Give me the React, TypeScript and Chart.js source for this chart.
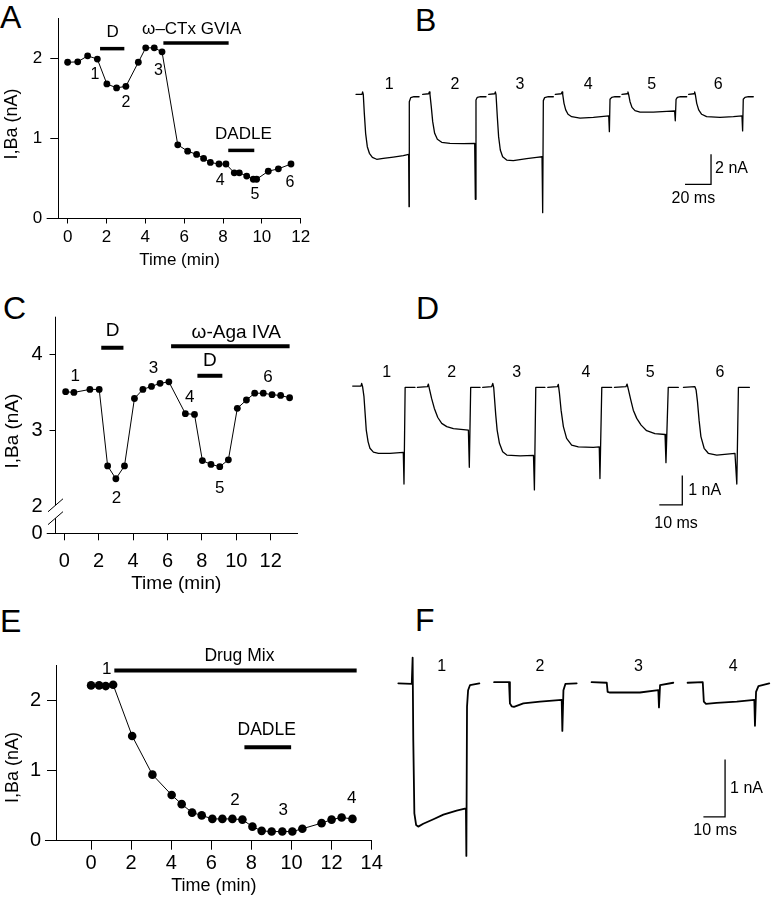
import React, { useEffect, useRef } from "react";
import { Chart, registerables } from "chart.js";

Chart.register(...registerables);

const FONT = '"Liberation Sans", Arial, Helvetica, sans-serif';
Chart.defaults.font.family = FONT;
Chart.defaults.color = "#000";

type Txt = [number, number, string];

/* ---------------- Panel A : time course ---------------- */
const A_TIME = [0, 0.52, 1.03, 1.53, 2.02, 2.52, 3.0, 3.64, 4.02, 4.46, 4.86, 5.67, 6.18, 6.64, 7.0, 7.35, 7.79, 8.15, 8.58, 8.84, 9.22, 9.56, 9.73, 10.33, 10.85, 11.5];
const A_CURRENT = [1.95, 1.955, 2.03, 1.99, 1.68, 1.63, 1.65, 1.95, 2.13, 2.13, 2.08, 0.92, 0.84, 0.8, 0.75, 0.7, 0.68, 0.68, 0.57, 0.57, 0.53, 0.49, 0.49, 0.59, 0.62, 0.68];
const A_X_TICKS = [0, 2, 4, 6, 8, 10, 12];
const A_Y_TICKS = [0, 1, 2];
const A_Y_TICK_LABELS = ["0", "1", "2"];
const A_BARS = [[1.67, 2.92, 2.12], [4.93, 8.29, 2.19], [8.27, 9.61, 0.85]];
const A_BAR_TEXT: Txt[] = [[2.32, 2.32, "D"], [6.39, 2.36, "ω–CTx GVIA"], [9.05, 1.055, "DADLE"]];
const A_POINT_TEXT: Txt[] = [[1.41, 1.8, "1"], [3.0, 1.45, "2"], [4.67, 1.84, "3"], [7.85, 0.47, "4"], [9.65, 0.3, "5"], [11.45, 0.45, "6"]];

/* ---------------- Panel C : time course (broken axis) ---------------- */
const C_TIME = [0.08, 0.56, 1.49, 2.03, 2.52, 3.0, 3.5, 4.08, 4.57, 5.07, 5.57, 6.08, 7.04, 7.57, 8.03, 8.53, 9.04, 9.54, 10.06, 10.59, 11.07, 11.57, 12.08, 12.58, 13.1];
const C_CURRENT = [3.51, 3.5, 3.54, 3.54, 2.53, 2.36, 2.53, 3.42, 3.54, 3.58, 3.62, 3.64, 3.22, 3.21, 2.6, 2.55, 2.52, 2.61, 3.29, 3.4, 3.49, 3.49, 3.47, 3.46, 3.43];
const C_AXIS_FLOOR = 1.64; // where the broken axis shows "0"
const C_X_TICKS = [0, 2, 4, 6, 8, 10, 12];
const C_Y_TICKS = [C_AXIS_FLOOR, 2, 3, 4];
const C_Y_TICK_LABELS = ["0", "2", "3", "4"];
const C_BARS = [[2.15, 3.44, 4.09], [6.21, 13.1, 4.11], [7.74, 9.19, 3.72]];
const C_BAR_TEXT: Txt[] = [[2.81, 4.32, "D"], [10.0, 4.29, "ω-Aga IVA"], [8.46, 3.92, "D"]];
const C_POINT_TEXT: Txt[] = [[0.64, 3.71, "1"], [3.04, 2.1, "2"], [5.19, 3.82, "3"], [7.3, 3.44, "4"], [9.04, 2.23, "5"], [11.84, 3.7, "6"]];

/* ---------------- Panel E : time course ---------------- */
const E_TIME = [0, 0.4, 0.73, 1.1, 2.05, 3.06, 4.02, 4.52, 5.04, 5.52, 6.05, 6.55, 7.05, 7.55, 8.05, 8.51, 9.01, 9.54, 10.04, 10.54, 11.5, 12.0, 12.5, 13.04];
const E_CURRENT = [2.21, 2.21, 2.2, 2.22, 1.49, 0.94, 0.65, 0.52, 0.4, 0.36, 0.31, 0.31, 0.31, 0.3, 0.2, 0.14, 0.13, 0.13, 0.13, 0.17, 0.25, 0.3, 0.33, 0.31];
const E_X_TICKS = [0, 2, 4, 6, 8, 10, 12, 14];
const E_Y_TICKS = [0, 1, 2];
const E_Y_TICK_LABELS = ["0", "1", "2"];
const E_BARS = [[1.16, 13.25, 2.42], [7.65, 9.98, 1.33]];
const E_BAR_TEXT: Txt[] = [[7.4, 2.62, "Drug Mix"], [8.76, 1.57, "DADLE"]];
const E_POINT_TEXT: Txt[] = [[0.78, 2.44, "1"], [7.18, 0.58, "2"], [9.59, 0.43, "3"], [13.0, 0.6, "4"]];

/* ---------------- Panel B : current traces (ms, nA) ---------------- */
const B_TRACES = [
  [[0, 0], [4.6, 0], [5.1, 0.16], [5.6, 0], [6.4, -1.27], [7.4, -2.6], [8.7, -3.49], [10.3, -3.93], [12.6, -4.2], [15.9, -4.33], [21.0, -4.27], [28.7, -4.18], [36.4, -4.09], [40.5, -4.0], [40.8, -7.49], [41.0, -0.49], [42.1, -0.22], [44.6, -0.16], [48.5, -0.16]],
  [[51.3, 0], [55.9, 0.04], [56.4, 0.16], [56.9, 0], [57.9, -0.82], [59.0, -1.82], [60.5, -2.6], [62.6, -3.0], [65.9, -3.2], [72.3, -3.27], [82.6, -3.29], [91.3, -3.27], [91.8, -7.0], [92.3, -0.38], [93.3, -0.2], [95.9, -0.16], [100, -0.16]],
  [[102.1, 0], [106.7, 0.04], [107.2, 0.16], [107.7, 0], [108.7, -1.49], [109.7, -2.82], [111.0, -3.71], [112.8, -4.16], [115.9, -4.38], [121.0, -4.42], [131.3, -4.29], [139.0, -4.2], [143.1, -4.16], [143.6, -7.89], [144.1, -0.42], [145.1, -0.22], [147.9, -0.16], [151.8, -0.16]],
  [[153.3, 0], [157.9, 0.04], [158.5, 0.16], [159, 0], [160, -0.6], [161.3, -1.04], [163.1, -1.33], [165.9, -1.49], [172.3, -1.58], [182.6, -1.53], [194.4, -1.44], [194.9, -2.49], [195.4, -0.33], [196.7, -0.2], [199.2, -0.16], [203.1, -0.16]],
  [[204.6, 0], [208.7, 0.04], [209.2, 0.16], [209.7, 0], [210.8, -0.49], [212.3, -0.87], [214.6, -1.09], [218.5, -1.18], [228.7, -1.18], [239.0, -1.13], [245.1, -1.11], [245.6, -1.76], [246.2, -0.33], [247.2, -0.2], [249.7, -0.16], [254.4, -0.16]],
  [[255.9, 0], [260, 0.04], [260.5, 0.16], [261.0, 0], [262.1, -0.6], [263.6, -1.04], [265.9, -1.33], [269.7, -1.49], [280, -1.53], [290.3, -1.49], [296.9, -1.44], [297.4, -2.44], [297.9, -0.33], [299.2, -0.2], [301.8, -0.16], [305.6, -0.16]],
];
const B_LABELS = ["1", "2", "3", "4", "5", "6"];
const B_LABEL_TIMES = [25.6, 76.2, 126.2, 178.7, 227.4, 278.7];
const B_LABEL_LEVEL = 0.62;
const B_SCALE = { ms: 20, na: 2, corner: [273.1, -6.0] };
const B_SCALE_TEXT: Txt[] = [[276.2, -4.93, "2 nA"], [259.5, -6.93, "20 ms"]];

/* ---------------- Panel D : current traces ---------------- */
const D_TRACES = [
  [[0, 0.02], [3.6, 0.02], [3.9, 0.11], [4.3, 0], [4.9, -0.34], [5.4, -0.91], [5.9, -1.48], [6.7, -1.88], [7.5, -2.1], [9.0, -2.23], [11.2, -2.27], [16.2, -2.27], [22.0, -2.24], [22.3, -3.32], [22.8, -0.02], [27.1, -0.02]],
  [[28.1, -0.02], [32.5, 0], [32.9, 0.09], [33.3, -0.06], [34.3, -0.4], [35.5, -0.74], [37.0, -1.05], [38.7, -1.25], [40.9, -1.36], [43.8, -1.43], [50.3, -1.48], [50.7, -2.75], [51.3, -0.02], [55.4, -0.02]],
  [[56.5, -0.02], [60.4, 0], [60.9, 0.11], [61.3, -0.02], [61.7, -0.45], [62.2, -0.97], [62.8, -1.48], [63.8, -1.93], [65.2, -2.22], [67.0, -2.33], [72.8, -2.36], [78.6, -2.34], [79.0, -3.52], [79.6, -0.02], [83.6, -0.02]],
  [[84.8, -0.02], [89.0, 0], [89.4, 0.08], [89.9, -0.23], [90.6, -0.8], [91.6, -1.36], [93.0, -1.76], [95.2, -1.99], [98.1, -2.05], [104.6, -2.07], [107.2, -2.05], [107.5, -3.13], [108.3, -0.02], [112.6, -0.02]],
  [[113.8, -0.02], [118.8, 0], [119.3, 0.09], [119.9, -0.11], [120.9, -0.45], [122.0, -0.8], [123.5, -1.08], [125.4, -1.31], [127.8, -1.5], [131.4, -1.6], [135.8, -1.63], [136.2, -2.59], [137.2, -0.02], [141.6, -0.02]],
  [[143.8, -0.02], [148.8, 0], [149.3, -0.11], [149.9, -0.51], [150.6, -1.14], [151.4, -1.7], [152.8, -2.1], [154.6, -2.27], [158.3, -2.33], [166.2, -2.27], [167.0, -3.32], [167.7, -0.02], [172.5, -0.02]],
];
const D_LABELS = ["1", "2", "3", "4", "5", "6"];
const D_LABEL_TIMES = [14.8, 43.0, 71.3, 101.4, 129.3, 159.7];
const D_LABEL_LEVEL = 0.49;
const D_SCALE = { ms: 10, na: 1, corner: [143.3, -4.03] };
const D_SCALE_TEXT: Txt[] = [[145.9, -3.55, "1 nA"], [140.6, -4.66, "10 ms"]];

/* ---------------- Panel F : current traces ---------------- */
const F_TRACES = [
  [[0, 0], [6.2, -0.01], [6.6, 0.45], [6.9, -0.99], [7.4, -2.27], [8.2, -2.47], [9.2, -2.5], [11.5, -2.45], [16.2, -2.37], [20.8, -2.29], [26.9, -2.22], [31.2, -2.18], [31.4, -3.01], [31.7, -0.41], [32.2, -0.12], [33.1, -0.03], [37.4, 0]],
  [[44.2, 0.02], [51.1, 0.02], [51.5, -0.35], [52.3, -0.4], [53.4, -0.41], [57.7, -0.35], [65.4, -0.32], [75.4, -0.29], [75.7, -0.83], [76.2, -0.12], [77.1, -0.01], [82.3, 0]],
  [[89.2, 0.02], [96.2, 0.01], [96.6, -0.15], [97.7, -0.16], [103.8, -0.16], [111.5, -0.16], [120.0, -0.12], [120.3, -0.42], [120.8, -0.03], [126.9, 0.01]],
  [[133.5, 0.01], [140.5, 0.02], [141.0, -0.32], [142.0, -0.36], [146.9, -0.34], [156.2, -0.32], [164.3, -0.29], [164.6, -0.74], [165.1, -0.15], [166.2, -0.05], [171.2, 0]],
];
const F_LABELS = ["1", "2", "3", "4"];
const F_LABEL_TIMES = [20.0, 65.4, 110.8, 154.6];
const F_LABEL_LEVEL = 0.3;
const F_SCALE = { ms: 10, na: 1, corner: [150.8, -2.33] };
const F_SCALE_TEXT: Txt[] = [[153.1, -1.83, "1 nA"], [146.2, -2.57, "10 ms"]];

/* ---------------- panel layout / style ---------------- */
const PANEL_A = {
  rect: { left: 0, top: 0, width: 320, height: 280 },
  area: { l: 58.3, t: 14.75, r: 300.7, b: 218.5 },
  xRange: [-0.48, 12], yRange: [0, 2.5], xAxisStart: -1.08,
  time: A_TIME, current: A_CURRENT, xTicks: A_X_TICKS, yTicks: A_Y_TICKS, yTickLabels: A_Y_TICK_LABELS,
  bars: A_BARS, barText: A_BAR_TEXT, pointText: A_POINT_TEXT,
  dot: 3.4, barWidth: 3.5, tickFont: 17, xTitleFont: 17, yTitleFont: 18, noteFont: 17, numFont: 16,
  xTickLen: 5, yTickLen: 8, xTickPad: 3.5, yTickPad: 8, xTitlePad: 9, yTitleX: 12, yTitleV: 1.18,
  broken: null as any,
};
const PANEL_C = {
  rect: { left: 0, top: 290, width: 330, height: 320 },
  area: { l: 55.5, t: 316.7, r: 297, b: 533.3 },
  xRange: [-0.51, 13.53], yRange: [C_AXIS_FLOOR, 4.5], xAxisStart: -1.02,
  time: C_TIME, current: C_CURRENT, xTicks: C_X_TICKS, yTicks: C_Y_TICKS, yTickLabels: C_Y_TICK_LABELS,
  bars: C_BARS, barText: C_BAR_TEXT, pointText: C_POINT_TEXT,
  dot: 3.4, barWidth: 4, tickFont: 20, xTitleFont: 19, yTitleFont: 19, noteFont: 19, numFont: 17,
  xTickLen: 7, yTickLen: 6, xTickPad: 9, yTickPad: 7, xTitlePad: 15, yTitleX: 13, yTitleV: 2.99,
  broken: { gapTop: 2.01, gapBottom: 1.84, hideTick: 2 },
};
const PANEL_E = {
  rect: { left: 0, top: 600, width: 390, height: 299 },
  area: { l: 56, t: 665, r: 371.7, b: 840.7 },
  xRange: [-1.75, 14], yRange: [0, 2.5], xAxisStart: -2.3,
  time: E_TIME, current: E_CURRENT, xTicks: E_X_TICKS, yTicks: E_Y_TICKS, yTickLabels: E_Y_TICK_LABELS,
  bars: E_BARS, barText: E_BAR_TEXT, pointText: E_POINT_TEXT,
  dot: 4.3, barWidth: 4, tickFont: 20, xTitleFont: 18, yTitleFont: 18, noteFont: 17.5, numFont: 17,
  xTickLen: 9, yTickLen: 9, xTickPad: 2, yTickPad: 6, xTitlePad: 2.5, yTitleX: 13, yTitleV: 1.04,
  broken: null as any,
};

const PANEL_B = {
  rect: { left: 346, top: 56, width: 426, height: 182 },
  tZeroX: 356, pxPerMs: 1.3, iZeroY: 94.33, pxPerNa: 15,
  traces: B_TRACES, labels: B_LABELS, labelTimes: B_LABEL_TIMES, labelLevel: B_LABEL_LEVEL,
  scale: B_SCALE, scaleText: B_SCALE_TEXT, lineWidth: 1.3, labelFont: 16, scaleFont: 16,
};
const PANEL_D = {
  rect: { left: 344, top: 340, width: 428, height: 215 },
  tZeroX: 352.7, pxPerMs: 2.3, iZeroY: 386.7, pxPerNa: 29.33,
  traces: D_TRACES, labels: D_LABELS, labelTimes: D_LABEL_TIMES, labelLevel: D_LABEL_LEVEL,
  scale: D_SCALE, scaleText: D_SCALE_TEXT, lineWidth: 1.3, labelFont: 16, scaleFont: 16,
};
const PANEL_F = {
  rect: { left: 390, top: 620, width: 382, height: 252 },
  tZeroX: 398.33, pxPerMs: 2.1667, iZeroY: 683.33, pxPerNa: 57.33,
  traces: F_TRACES, labels: F_LABELS, labelTimes: F_LABEL_TIMES, labelLevel: F_LABEL_LEVEL,
  scale: F_SCALE, scaleText: F_SCALE_TEXT, lineWidth: 1.8, labelFont: 16, scaleFont: 16,
};

const LETTERS: [string, number, number][] = [
  ["A", 0, 1], ["B", 415, 4], ["C", 3, 292], ["D", 416, 292], ["E", 0, 605], ["F", 415, 604],
];

/* ---------------- helpers ---------------- */
const alignPx = (v: number) => Math.round(v - 0.5) + 0.5;

function scatterNotes(p: any) {
  return {
    id: "scatterNotes",
    afterDraw(chart: any) {
      const ctx = chart.ctx;
      const xs = chart.scales.x;
      const ys = chart.scales.y;
      const a = chart.chartArea;
      const X = (v: number) => xs.getPixelForValue(v);
      const Y = (v: number) => ys.getPixelForValue(v);
      ctx.save();
      ctx.strokeStyle = "#000";
      ctx.fillStyle = "#000";
      ctx.lineWidth = 1;
      ctx.lineCap = "butt";
      const by = alignPx(a.bottom);
      ctx.beginPath();
      ctx.moveTo(X(p.xAxisStart), by);
      ctx.lineTo(a.left + 1, by);
      ctx.stroke();
      if (p.broken) {
        const ax = alignPx(a.left);
        ctx.beginPath();
        ctx.moveTo(ax, a.top);
        ctx.lineTo(ax, Y(p.broken.gapTop));
        ctx.moveTo(ax, Y(p.broken.gapBottom));
        ctx.lineTo(ax, a.bottom);
        for (const v of [p.broken.gapTop, p.broken.gapBottom]) {
          const yy = Y(v);
          ctx.moveTo(ax - 7.5, yy + 6.5);
          ctx.lineTo(ax + 7.5, yy - 6.5);
        }
        ctx.stroke();
      }
      ctx.lineWidth = p.barWidth;
      for (const [x1, x2, y] of p.bars) {
        ctx.beginPath();
        ctx.moveTo(X(x1), Y(y));
        ctx.lineTo(X(x2), Y(y));
        ctx.stroke();
      }
      ctx.textAlign = "center";
      ctx.textBaseline = "middle";
      ctx.font = `${p.noteFont}px ${FONT}`;
      for (const [x, y, t] of p.barText) ctx.fillText(t, X(x), Y(y));
      ctx.font = `${p.numFont}px ${FONT}`;
      for (const [x, y, t] of p.pointText) ctx.fillText(t, X(x), Y(y));
      ctx.font = `${p.yTitleFont}px ${FONT}`;
      ctx.translate(p.yTitleX, Y(p.yTitleV));
      ctx.rotate(-Math.PI / 2);
      ctx.fillText("I,Ba (nA)", 0, 0);
      ctx.restore();
    },
  };
}

function scatterConfig(p: any): any {
  const { rect, area } = p;
  const yWidth = area.l - rect.left;
  const xHeight = rect.top + rect.height - area.b;
  const tickColor = (c: any) =>
    p.broken && c.tick && Math.abs(c.tick.value - p.broken.hideTick) < 1e-6 ? "rgba(0,0,0,0)" : "#000";
  return {
    type: "scatter",
    data: {
      datasets: [
        {
          data: p.time.map((t: number, i: number) => ({ x: t, y: p.current[i] })),
          showLine: true,
          borderColor: "#000",
          borderWidth: 1,
          pointRadius: p.dot,
          pointHoverRadius: p.dot,
          pointBackgroundColor: "#000",
          pointBorderColor: "#000",
          pointBorderWidth: 0,
          clip: false,
        },
      ],
    },
    options: {
      responsive: false,
      animation: false,
      events: [],
      layout: { padding: { left: 0, top: area.t - rect.top, right: rect.left + rect.width - area.r, bottom: 0 } },
      plugins: { legend: { display: false }, tooltip: { enabled: false } },
      scales: {
        x: {
          type: "linear",
          position: "bottom",
          min: p.xRange[0],
          max: p.xRange[1],
          afterBuildTicks: (s: any) => {
            s.ticks = p.xTicks.map((v: number) => ({ value: v }));
          },
          afterFit: (s: any) => {
            s.height = xHeight;
          },
          grid: { drawOnChartArea: false, drawTicks: true, tickLength: p.xTickLen, color: "#000", lineWidth: 1 },
          border: { display: true, color: "#000", width: 1 },
          ticks: {
            color: "#000",
            padding: p.xTickPad,
            maxRotation: 0,
            autoSkip: false,
            font: { family: FONT, size: p.tickFont },
            callback: (v: number) => String(v),
          },
          title: {
            display: true,
            text: "Time (min)",
            color: "#000",
            font: { family: FONT, size: p.xTitleFont },
            padding: { top: 0, bottom: p.xTitlePad },
          },
        },
        y: {
          type: "linear",
          position: "left",
          min: p.yRange[0],
          max: p.yRange[1],
          afterBuildTicks: (s: any) => {
            s.ticks = p.yTicks.map((v: number) => ({ value: v }));
          },
          afterFit: (s: any) => {
            s.width = yWidth;
          },
          grid: { drawOnChartArea: false, drawTicks: true, tickLength: p.yTickLen, color: tickColor, lineWidth: 1 },
          border: { display: !p.broken, color: "#000", width: 1 },
          ticks: {
            color: "#000",
            padding: p.yTickPad,
            autoSkip: false,
            font: { family: FONT, size: p.tickFont },
            callback: (_v: number, i: number) => p.yTickLabels[i],
          },
        },
      },
    },
    plugins: [scatterNotes(p)],
  };
}

function traceNotes(p: any) {
  return {
    id: "traceNotes",
    afterDraw(chart: any) {
      const ctx = chart.ctx;
      const X = (v: number) => chart.scales.x.getPixelForValue(v);
      const Y = (v: number) => chart.scales.y.getPixelForValue(v);
      ctx.save();
      ctx.fillStyle = "#000";
      ctx.textBaseline = "middle";
      ctx.textAlign = "center";
      ctx.font = `${p.labelFont}px ${FONT}`;
      p.labels.forEach((t: string, i: number) => ctx.fillText(t, X(p.labelTimes[i]), Y(p.labelLevel)));
      ctx.font = `${p.scaleFont}px ${FONT}`;
      const [naT, msT] = p.scaleText;
      ctx.textAlign = "left";
      ctx.fillText(naT[2], X(naT[0]), Y(naT[1]));
      ctx.textAlign = "center";
      ctx.fillText(msT[2], X(msT[0]), Y(msT[1]));
      ctx.restore();
    },
  };
}

function traceConfig(p: any): any {
  const r = p.rect;
  const xmin = (r.left - p.tZeroX) / p.pxPerMs;
  const xmax = (r.left + r.width - p.tZeroX) / p.pxPerMs;
  const ymax = (p.iZeroY - r.top) / p.pxPerNa;
  const ymin = (p.iZeroY - r.top - r.height) / p.pxPerNa;
  const [cx, cy] = p.scale.corner;
  const datasets: any[] = p.traces.map((tr: number[][]) => ({
    data: tr.map(([x, y]) => ({ x, y })),
    showLine: true,
    borderColor: "#000",
    borderWidth: p.lineWidth,
    borderJoinStyle: "round",
    borderCapStyle: "round",
    pointRadius: 0,
    clip: false,
  }));
  datasets.push({
    data: [
      { x: cx - p.scale.ms, y: cy },
      { x: cx, y: cy },
      { x: cx, y: cy + p.scale.na },
    ],
    showLine: true,
    borderColor: "#000",
    borderWidth: 1.3,
    pointRadius: 0,
    clip: false,
  });
  return {
    type: "scatter",
    data: { datasets },
    options: {
      responsive: false,
      animation: false,
      events: [],
      layout: { padding: 0 },
      plugins: { legend: { display: false }, tooltip: { enabled: false } },
      scales: {
        x: { type: "linear", display: false, min: xmin, max: xmax },
        y: { type: "linear", display: false, min: ymin, max: ymax },
      },
    },
    plugins: [traceNotes(p)],
  };
}

function ChartBox({ rect, make }: { rect: any; make: () => any }) {
  const ref = useRef<HTMLCanvasElement | null>(null);
  useEffect(() => {
    const chart = new Chart(ref.current as HTMLCanvasElement, make());
    return () => chart.destroy();
  }, []);
  return (
    <canvas
      ref={ref}
      width={rect.width}
      height={rect.height}
      style={{ position: "absolute", left: rect.left, top: rect.top, width: rect.width, height: rect.height }}
    />
  );
}

export default function App() {
  return (
    <div
      style={{
        position: "absolute",
        left: 0,
        top: 0,
        width: 772,
        height: 899,
        background: "#fff",
        overflow: "hidden",
        fontFamily: FONT,
      }}
    >
      {LETTERS.map(([t, x, y]) => (
        <div key={t} style={{ position: "absolute", left: x, top: y, fontSize: 32, lineHeight: "32px", color: "#000" }}>
          {t}
        </div>
      ))}
      <ChartBox rect={PANEL_A.rect} make={() => scatterConfig(PANEL_A)} />
      <ChartBox rect={PANEL_C.rect} make={() => scatterConfig(PANEL_C)} />
      <ChartBox rect={PANEL_E.rect} make={() => scatterConfig(PANEL_E)} />
      <ChartBox rect={PANEL_B.rect} make={() => traceConfig(PANEL_B)} />
      <ChartBox rect={PANEL_D.rect} make={() => traceConfig(PANEL_D)} />
      <ChartBox rect={PANEL_F.rect} make={() => traceConfig(PANEL_F)} />
    </div>
  );
}
